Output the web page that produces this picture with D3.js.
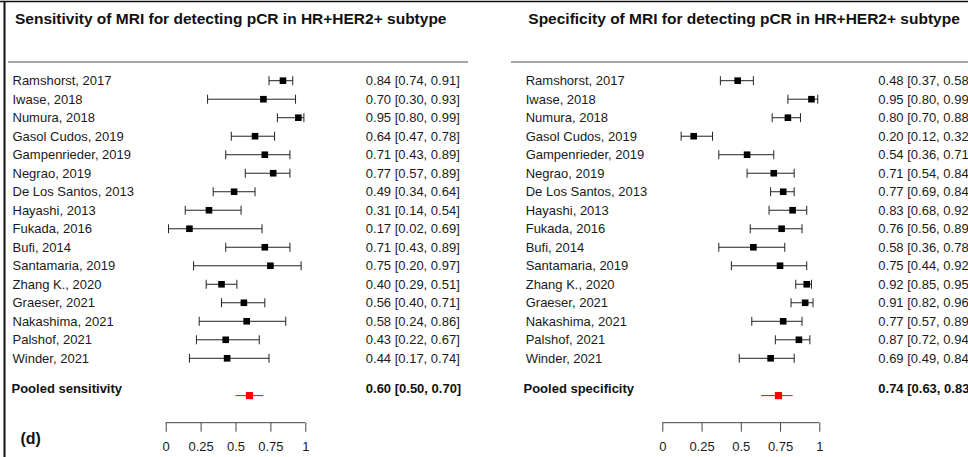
<!DOCTYPE html>
<html><head><meta charset="utf-8">
<script src="https://cdn.jsdelivr.net/npm/d3@7"></script>
<style>html,body{margin:0;padding:0;background:#fff;overflow:hidden}svg{display:block}</style>
</head><body><svg id="c" width="968" height="457"></svg>
<script>
const studies = ["Ramshorst, 2017","Iwase, 2018","Numura, 2018","Gasol Cudos, 2019","Gampenrieder, 2019","Negrao, 2019","De Los Santos, 2013","Hayashi, 2013","Fukada, 2016","Bufi, 2014","Santamaria, 2019","Zhang K., 2020","Graeser, 2021","Nakashima, 2021","Palshof, 2021","Winder, 2021"];
const sensEst = [0.84,0.70,0.95,0.64,0.71,0.77,0.49,0.31,0.17,0.71,0.75,0.40,0.56,0.58,0.43,0.44];
const sensLo  = [0.74,0.30,0.80,0.47,0.43,0.57,0.34,0.14,0.02,0.43,0.20,0.29,0.40,0.24,0.22,0.17];
const sensHi  = [0.91,0.93,0.99,0.78,0.89,0.89,0.64,0.54,0.69,0.89,0.97,0.51,0.71,0.86,0.67,0.74];
const sensPooled = [0.60,0.50,0.70];
const specEst = [0.48,0.95,0.80,0.20,0.54,0.71,0.77,0.83,0.76,0.58,0.75,0.92,0.91,0.77,0.87,0.69];
const specLo  = [0.37,0.80,0.70,0.12,0.36,0.54,0.69,0.68,0.56,0.36,0.44,0.85,0.82,0.57,0.72,0.49];
const specHi  = [0.58,0.99,0.88,0.32,0.71,0.84,0.84,0.92,0.89,0.78,0.92,0.95,0.96,0.89,0.94,0.84];
const specPooled = [0.74,0.63,0.83];
const tickValues = [0,0.25,0.5,0.75,1];
const tickLabels = ["0","0.25","0.5","0.75","1"];
const titles = ["Sensitivity of MRI for detecting pCR in HR+HER2+ subtype","Specificity of MRI for detecting pCR in HR+HER2+ subtype"];
const pooledLabels = ["Pooled sensitivity","Pooled specificity"];
const panelTag = "(d)";

const svg = d3.select("#c");
const font = "'Liberation Sans', Arial, sans-serif";
const fmt = d3.format(".2f");

// frame
svg.append("line").attr("x1",0).attr("x2",968).attr("y1",1.5).attr("y2",1.5).attr("stroke","#111").attr("stroke-width",1.5);
svg.append("line").attr("x1",4.5).attr("x2",4.5).attr("y1",1).attr("y2",457).attr("stroke","#111").attr("stroke-width",2);

const y = d3.scaleLinear().domain([0, studies.length-1]).range([80.7, 358.3]);
const pooledY = 395.6, pooledTextY = 388.5;

const panels = [
  {est:sensEst, lo:sensLo, hi:sensHi, pooled:sensPooled, labelX:12.5, pooledX:11.5, axis:[165.7,305.3], valueX:365.8, titleX:15, sep:[8,468]},
  {est:specEst, lo:specLo, hi:specHi, pooled:specPooled, labelX:525.7, pooledX:523.5, axis:[662.3,819.3], valueX:878.3, titleX:528.3, sep:[511,968]}
];

panels.forEach((p, pi) => {
  const g = svg.append("g");
  const x = d3.scaleLinear().domain([0,1]).range(p.axis);
  g.append("text").attr("x",p.titleX).attr("y",24).attr("font-family",font).attr("font-weight","bold")
    .attr("font-size",15.5).attr("fill","#111").text(titles[pi]);
  g.append("line").attr("x1",p.sep[0]).attr("x2",p.sep[1]).attr("y1",62).attr("y2",62)
    .attr("stroke","#8a8a8a").attr("stroke-width",1.5);

  const rows = studies.map((s,i)=>({s, e:p.est[i], lo:p.lo[i], hi:p.hi[i], i}));
  const rg = g.selectAll("g.row").data(rows).join("g").attr("class","row");
  rg.append("text").attr("x",p.labelX).attr("y",d=>y(d.i)).attr("dy","0.36em")
    .attr("font-family",font).attr("font-size",13).attr("fill","#1a1a1a").text(d=>d.s);
  rg.append("text").attr("x",p.valueX).attr("y",d=>y(d.i)).attr("dy","0.36em")
    .attr("font-family",font).attr("font-size",13).attr("fill","#1a1a1a")
    .text(d=>`${fmt(d.e)} [${fmt(d.lo)}, ${fmt(d.hi)}]`);
  rg.append("line").attr("x1",d=>x(d.lo)).attr("x2",d=>x(d.hi)).attr("y1",d=>y(d.i)).attr("y2",d=>y(d.i))
    .attr("stroke","#222").attr("stroke-width",1);
  rg.append("line").attr("x1",d=>x(d.lo)).attr("x2",d=>x(d.lo)).attr("y1",d=>y(d.i)-4.5).attr("y2",d=>y(d.i)+4.5)
    .attr("stroke","#222").attr("stroke-width",1);
  rg.append("line").attr("x1",d=>x(d.hi)).attr("x2",d=>x(d.hi)).attr("y1",d=>y(d.i)-4.5).attr("y2",d=>y(d.i)+4.5)
    .attr("stroke","#222").attr("stroke-width",1);
  rg.append("rect").attr("x",d=>x(d.e)-3.3).attr("y",d=>y(d.i)-3.3).attr("width",6.6).attr("height",6.6).attr("fill","#000");

  // pooled
  g.append("text").attr("x",p.pooledX).attr("y",pooledTextY).attr("dy","0.36em").attr("font-family",font)
    .attr("font-weight","bold").attr("font-size",13).attr("fill","#111").text(pooledLabels[pi]);
  g.append("text").attr("x",p.valueX).attr("y",pooledTextY).attr("dy","0.36em").attr("font-family",font)
    .attr("font-weight","bold").attr("font-size",13).attr("fill","#111")
    .text(`${fmt(p.pooled[0])} [${fmt(p.pooled[1])}, ${fmt(p.pooled[2])}]`);
  g.append("line").attr("x1",x(p.pooled[1])).attr("x2",x(p.pooled[2])).attr("y1",pooledY).attr("y2",pooledY)
    .attr("stroke","#ff0000").attr("stroke-width",1);
  g.append("rect").attr("x",x(p.pooled[0])-3.6).attr("y",pooledY-3.6).attr("width",7.2).attr("height",7.2).attr("fill","#ff0000");

  // axis
  const ax = g.append("g").attr("transform","translate(0,422.7)")
    .call(d3.axisBottom(x).tickValues(tickValues).tickFormat((d,i)=>tickLabels[i]).tickSize(9).tickPadding(10));
  ax.select(".domain").attr("stroke","#444").attr("d",`M${p.axis[0]},0H${p.axis[1]}`);
  ax.selectAll(".tick line").attr("stroke","#444");
  ax.selectAll(".tick text").attr("font-family",font).attr("font-size",13).attr("fill","#1a1a1a");
});

svg.append("text").attr("x",20.5).attr("y",443.5).attr("font-family",font).attr("font-weight","bold")
  .attr("font-size",16).attr("fill","#111").text(panelTag);
</script></body></html>
